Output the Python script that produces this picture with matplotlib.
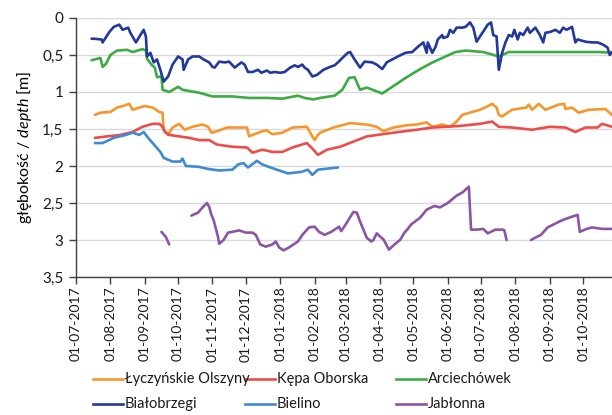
import numpy as np
import pandas as pd
import matplotlib
matplotlib.use('Agg')
import matplotlib.pyplot as plt
import matplotlib.dates as mdates
from matplotlib.lines import Line2D

plt.rcParams['font.family'] = ['Lato', 'DejaVu Sans']
plt.rcParams['mathtext.fontset'] = 'custom'
plt.rcParams['mathtext.it'] = 'Lato:italic'
plt.rcParams['mathtext.rm'] = 'Lato'

# depth below ground [m]
olszyny_dates = ['2017-07-18', '2017-07-23', '2017-08-01', '2017-08-07', '2017-08-12', '2017-08-18',
                 '2017-08-21', '2017-08-27', '2017-09-01', '2017-09-08', '2017-09-14', '2017-09-17',
                 '2017-09-18', '2017-09-22', '2017-09-26', '2017-10-02', '2017-10-07', '2017-10-14',
                 '2017-10-23', '2017-10-28', '2017-10-31', '2017-11-05', '2017-11-14', '2017-11-25',
                 '2017-12-02', '2017-12-04', '2017-12-07', '2017-12-16', '2017-12-20', '2017-12-25',
                 '2018-01-03', '2018-01-12', '2018-01-25', '2018-01-30', '2018-02-01', '2018-02-04',
                 '2018-02-06', '2018-02-18', '2018-03-05', '2018-03-20', '2018-03-29', '2018-04-04',
                 '2018-04-13', '2018-04-25', '2018-05-04', '2018-05-13', '2018-05-18', '2018-05-27',
                 '2018-06-03', '2018-06-09', '2018-06-14', '2018-06-23', '2018-06-30', '2018-07-06',
                 '2018-07-11', '2018-07-15', '2018-07-17', '2018-07-20', '2018-07-29', '2018-08-11',
                 '2018-08-13', '2018-08-16', '2018-08-22', '2018-08-28', '2018-09-09', '2018-09-14',
                 '2018-09-15', '2018-09-21', '2018-09-27', '2018-10-06', '2018-10-21', '2018-10-27']
olszyny_depth = [1.31, 1.28, 1.27, 1.21, 1.19, 1.16,
                 1.24, 1.21, 1.19, 1.21, 1.27, 1.28,
                 1.51, 1.58, 1.48, 1.43, 1.51, 1.47,
                 1.44, 1.47, 1.55, 1.53, 1.48, 1.48,
                 1.48, 1.60, 1.58, 1.53, 1.52, 1.57,
                 1.55, 1.48, 1.47, 1.60, 1.65, 1.58,
                 1.55, 1.48, 1.42, 1.44, 1.47, 1.53,
                 1.48, 1.45, 1.44, 1.41, 1.47, 1.44,
                 1.47, 1.40, 1.31, 1.27, 1.24, 1.20,
                 1.16, 1.21, 1.31, 1.33, 1.24, 1.21,
                 1.17, 1.24, 1.16, 1.24, 1.17, 1.16,
                 1.23, 1.21, 1.28, 1.24, 1.23, 1.31]

kepa_dates = ['2017-07-18', '2017-07-29', '2017-08-10', '2017-08-21', '2017-08-30', '2017-09-08',
              '2017-09-14', '2017-09-17', '2017-09-19', '2017-09-23', '2017-10-02', '2017-10-11',
              '2017-10-20', '2017-10-29', '2017-11-05', '2017-11-19', '2017-12-02', '2017-12-07',
              '2017-12-16', '2017-12-25', '2018-01-03', '2018-01-12', '2018-01-25', '2018-01-31',
              '2018-02-04', '2018-02-12', '2018-02-24', '2018-03-20', '2018-04-13', '2018-05-04',
              '2018-05-18', '2018-06-11', '2018-06-30', '2018-07-11', '2018-07-17', '2018-07-29',
              '2018-08-16', '2018-09-01', '2018-09-15', '2018-09-24', '2018-10-03', '2018-10-14',
              '2018-10-18', '2018-10-27']
kepa_depth = [1.62, 1.60, 1.58, 1.54, 1.47, 1.43,
              1.43, 1.47, 1.54, 1.58, 1.60, 1.62,
              1.65, 1.65, 1.71, 1.74, 1.75, 1.82,
              1.78, 1.81, 1.81, 1.75, 1.69, 1.78,
              1.85, 1.78, 1.74, 1.60, 1.55, 1.51,
              1.48, 1.46, 1.43, 1.40, 1.47, 1.48,
              1.51, 1.47, 1.48, 1.54, 1.48, 1.48,
              1.43, 1.47]

arciechowek_dates = ['2017-07-15', '2017-07-18', '2017-07-23', '2017-07-25', '2017-07-28', '2017-08-01',
                     '2017-08-07', '2017-08-16', '2017-08-21', '2017-08-30', '2017-09-02', '2017-09-03',
                     '2017-09-07', '2017-09-10', '2017-09-12', '2017-09-16', '2017-09-17', '2017-09-23',
                     '2017-10-01', '2017-10-05', '2017-10-20', '2017-11-01', '2017-11-19', '2017-12-04',
                     '2017-12-20', '2018-01-03', '2018-01-17', '2018-01-23', '2018-01-31', '2018-02-06',
                     '2018-02-19', '2018-02-26', '2018-03-04', '2018-03-09', '2018-03-14', '2018-03-20',
                     '2018-04-03', '2018-04-12', '2018-04-24', '2018-05-06', '2018-05-17', '2018-05-27',
                     '2018-06-08', '2018-06-17', '2018-07-03', '2018-07-17', '2018-07-26', '2018-08-15',
                     '2018-09-16', '2018-10-15', '2018-10-27']
arciechowek_depth = [0.57, 0.56, 0.54, 0.66, 0.62, 0.50,
                     0.44, 0.43, 0.46, 0.42, 0.44, 0.55,
                     0.63, 0.67, 0.80, 0.79, 0.97, 1.00,
                     0.93, 0.97, 1.01, 1.06, 1.06, 1.08,
                     1.08, 1.09, 1.05, 1.08, 1.10, 1.08,
                     1.05, 0.97, 0.81, 0.80, 0.97, 0.94,
                     1.02, 0.93, 0.81, 0.70, 0.61, 0.54,
                     0.46, 0.44, 0.46, 0.52, 0.46, 0.46,
                     0.46, 0.46, 0.47]

bialobrzegi_dates = ['2017-07-15', '2017-07-17', '2017-07-24', '2017-07-25', '2017-07-31', '2017-08-04',
                     '2017-08-09', '2017-08-12', '2017-08-17', '2017-08-19', '2017-08-24', '2017-08-28',
                     '2017-08-31', '2017-09-02', '2017-09-03', '2017-09-06', '2017-09-09', '2017-09-12',
                     '2017-09-15', '2017-09-18', '2017-09-22', '2017-09-26', '2017-10-01', '2017-10-05',
                     '2017-10-06', '2017-10-10', '2017-10-14', '2017-10-20', '2017-10-24', '2017-10-29',
                     '2017-11-01', '2017-11-03', '2017-11-07', '2017-11-12', '2017-11-16', '2017-11-21',
                     '2017-11-27', '2017-11-30', '2017-12-03', '2017-12-07', '2017-12-12', '2017-12-15',
                     '2017-12-20', '2017-12-23', '2017-12-27', '2018-01-01', '2018-01-05', '2018-01-10',
                     '2018-01-14', '2018-01-17', '2018-01-21', '2018-01-23', '2018-01-26', '2018-01-30',
                     '2018-02-03', '2018-02-09', '2018-02-15', '2018-02-19', '2018-02-22', '2018-02-26',
                     '2018-03-03', '2018-03-05', '2018-03-09', '2018-03-14', '2018-03-18', '2018-03-25',
                     '2018-03-29', '2018-04-03', '2018-04-07', '2018-04-12', '2018-04-17', '2018-04-24',
                     '2018-04-30', '2018-05-05', '2018-05-10', '2018-05-13', '2018-05-14', '2018-05-18',
                     '2018-05-21', '2018-05-23', '2018-05-27', '2018-05-28', '2018-06-01', '2018-06-03',
                     '2018-06-06', '2018-06-09', '2018-06-14', '2018-06-17', '2018-06-21', '2018-06-24',
                     '2018-06-27', '2018-06-30', '2018-07-04', '2018-07-07', '2018-07-10', '2018-07-12',
                     '2018-07-15', '2018-07-17', '2018-07-20', '2018-07-23', '2018-07-26', '2018-07-29',
                     '2018-07-31', '2018-08-03', '2018-08-05', '2018-08-08', '2018-08-12', '2018-08-14',
                     '2018-08-19', '2018-08-23', '2018-08-26', '2018-08-28', '2018-09-01', '2018-09-06',
                     '2018-09-10', '2018-09-13', '2018-09-16', '2018-09-21', '2018-09-24', '2018-09-26',
                     '2018-10-03', '2018-10-09', '2018-10-14', '2018-10-19', '2018-10-23', '2018-10-25',
                     '2018-10-27']
bialobrzegi_depth = [0.28, 0.28, 0.29, 0.33, 0.19, 0.12,
                     0.09, 0.16, 0.13, 0.20, 0.33, 0.23,
                     0.16, 0.25, 0.52, 0.47, 0.60, 0.56,
                     0.70, 0.86, 0.79, 0.63, 0.52, 0.56,
                     0.70, 0.56, 0.52, 0.52, 0.56, 0.60,
                     0.66, 0.67, 0.59, 0.60, 0.59, 0.67,
                     0.60, 0.63, 0.73, 0.73, 0.70, 0.74,
                     0.71, 0.74, 0.73, 0.74, 0.73, 0.67,
                     0.64, 0.66, 0.63, 0.67, 0.70, 0.79,
                     0.77, 0.70, 0.66, 0.64, 0.60, 0.54,
                     0.47, 0.46, 0.56, 0.67, 0.59, 0.60,
                     0.63, 0.69, 0.60, 0.56, 0.52, 0.47,
                     0.46, 0.39, 0.33, 0.47, 0.33, 0.47,
                     0.39, 0.29, 0.23, 0.27, 0.25, 0.16,
                     0.20, 0.13, 0.13, 0.12, 0.06, 0.13,
                     0.32, 0.25, 0.16, 0.09, 0.06, 0.23,
                     0.25, 0.70, 0.47, 0.33, 0.23, 0.25,
                     0.16, 0.29, 0.20, 0.23, 0.13, 0.20,
                     0.13, 0.23, 0.33, 0.20, 0.19, 0.16,
                     0.20, 0.13, 0.16, 0.12, 0.33, 0.29,
                     0.32, 0.33, 0.33, 0.36, 0.40, 0.50,
                     0.46]

bielino_dates = ['2017-07-18', '2017-07-25', '2017-08-04', '2017-08-15', '2017-08-21', '2017-08-27',
                 '2017-08-31', '2017-09-04', '2017-09-11', '2017-09-15', '2017-09-18', '2017-09-26',
                 '2017-10-03', '2017-10-05', '2017-10-08', '2017-10-19', '2017-10-28', '2017-11-07',
                 '2017-11-19', '2017-11-24', '2017-11-29', '2017-12-03', '2017-12-11', '2017-12-16',
                 '2017-12-27', '2018-01-08', '2018-01-20', '2018-01-26', '2018-01-30', '2018-02-04',
                 '2018-02-22']
bielino_depth = [1.69, 1.69, 1.62, 1.58, 1.55, 1.58,
                 1.54, 1.62, 1.74, 1.81, 1.89, 1.94,
                 1.94, 1.90, 2.00, 2.01, 2.04, 2.06,
                 2.05, 1.98, 1.96, 2.02, 1.93, 1.98,
                 2.04, 2.10, 2.08, 2.05, 2.12, 2.05,
                 2.02]

# None marks the gaps in the Jabłonna record
jablonna_dates = ['2017-09-16', '2017-09-20', '2017-09-23', '2017-10-01',
                  '2017-10-13', '2017-10-19', '2017-10-23', '2017-10-27', '2017-10-29', '2017-10-31',
                  '2017-11-02', '2017-11-06', '2017-11-07', '2017-11-11', '2017-11-15', '2017-11-19',
                  '2017-11-25', '2017-12-01', '2017-12-07', '2017-12-10', '2017-12-14', '2017-12-19',
                  '2017-12-25', '2017-12-28', '2017-12-31', '2018-01-04', '2018-01-09', '2018-01-13',
                  '2018-01-17', '2018-01-21', '2018-01-27', '2018-02-01', '2018-02-05', '2018-02-10',
                  '2018-02-16', '2018-02-23', '2018-02-25', '2018-03-01', '2018-03-08', '2018-03-11',
                  '2018-03-14', '2018-03-20', '2018-03-24', '2018-03-26', '2018-03-29', '2018-04-03',
                  '2018-04-04', '2018-04-09', '2018-04-14', '2018-04-19', '2018-04-23', '2018-04-26',
                  '2018-04-29', '2018-05-07', '2018-05-13', '2018-05-20', '2018-05-25', '2018-06-01',
                  '2018-06-09', '2018-06-14', '2018-06-20', '2018-06-22', '2018-06-27', '2018-07-03',
                  '2018-07-07', '2018-07-14', '2018-07-21', '2018-07-22', '2018-07-24', '2018-08-01',
                  '2018-08-15', '2018-08-20', '2018-08-24', '2018-08-30', '2018-09-07', '2018-09-11',
                  '2018-09-16', '2018-09-26', '2018-09-28', '2018-10-04', '2018-10-09', '2018-10-18',
                  '2018-10-27']
jablonna_depth = [2.89, 2.96, 3.06, None,
                  2.67, 2.63, 2.56, 2.50, 2.55, 2.66,
                  2.73, 2.96, 3.05, 3.00, 2.90, 2.89,
                  2.87, 2.90, 2.90, 2.93, 3.06, 3.09,
                  3.06, 3.02, 3.10, 3.14, 3.10, 3.06,
                  3.02, 2.93, 2.83, 2.82, 2.89, 2.93,
                  2.89, 2.82, 2.88, 2.79, 2.62, 2.63,
                  2.75, 2.97, 3.02, 3.00, 2.91, 2.98,
                  2.99, 3.13, 3.06, 3.00, 2.90, 2.85,
                  2.79, 2.70, 2.59, 2.54, 2.56, 2.50,
                  2.40, 2.36, 2.28, 2.86, 2.86, 2.85,
                  2.91, 2.86, 2.86, 2.87, 3.00, None,
                  3.00, 2.96, 2.93, 2.83, 2.77, 2.74,
                  2.71, 2.66, 2.89, 2.85, 2.83, 2.85,
                  2.85]

series = [
    ('Łyczyńskie Olszyny', olszyny_dates, olszyny_depth, '#F7962B'),
    ('Kępa Oborska', kepa_dates, kepa_depth, '#EE4C4A'),
    ('Arciechówek', arciechowek_dates, arciechowek_depth, '#3CAB45'),
    ('Białobrzegi', bialobrzegi_dates, bialobrzegi_depth, '#22389A'),
    ('Bielino', bielino_dates, bielino_depth, '#3F8BD1'),
    ('Jabłonna', jablonna_dates, jablonna_depth, '#8B55A6'),
]

W, H = 612, 415
fig = plt.figure(figsize=(W / 100, H / 100), dpi=100)
ax = fig.add_axes([76 / W, 1 - 277 / H, 536 / W, 259 / H])

colors = {}
for name, d, v, c in series:
    x = pd.to_datetime(d)
    y = np.array([np.nan if a is None else a for a in v], dtype=float)
    ax.plot(x, y, color=c, lw=1.9, solid_joinstyle='round', solid_capstyle='round')
    colors[name] = c

ax.set_ylim(3.5, 0)
ax.set_yticks(np.arange(0, 3.51, 0.5))
ax.set_yticklabels(['0', '0,5', '1', '1,5', '2', '2,5', '3', '3,5'])
ax.set_xlim(pd.Timestamp('2017-07-01'), pd.Timestamp('2018-10-27'))
ax.xaxis.set_major_locator(mdates.MonthLocator(bymonthday=1))
ax.xaxis.set_major_formatter(mdates.DateFormatter('%d-%m-%Y'))
plt.setp(ax.get_xticklabels(), rotation=90)

ax.grid(axis='y', color='#D9D9D9', lw=1)
ax.set_axisbelow(True)
for s in ['top', 'right']:
    ax.spines[s].set_visible(False)
for s in ['left', 'bottom']:
    ax.spines[s].set_color('#404040')
    ax.spines[s].set_linewidth(1)
ax.tick_params(axis='both', colors='#404040', labelcolor='#1a1a1a', length=5, width=1)
ax.tick_params(axis='x', labelsize=10, pad=2)
ax.tick_params(axis='y', labelsize=11, pad=4)

ax.set_ylabel(r'głębokość / $\it{depth}$ [m]', fontsize=11.5, labelpad=6)

# legend entries drawn at fixed pixel spots (three columns, two rows)
legend_cols = [(93, ['Łyczyńskie Olszyny', 'Białobrzegi']),
               (245, ['Kępa Oborska', 'Bielino']),
               (396, ['Arciechówek', 'Jabłonna'])]
row_y = [379, 404]
for x0, names in legend_cols:
    for name, yy in zip(names, row_y):
        fy = 1 - yy / H
        fig.add_artist(Line2D([x0 / W, (x0 + 30) / W], [fy, fy], transform=fig.transFigure,
                              color=colors[name], lw=1.9))
        fig.text((x0 + 32) / W, fy, name, va='center', ha='left', fontsize=10.5, color='#1a1a1a')

fig.savefig('out.png', dpi=100)
